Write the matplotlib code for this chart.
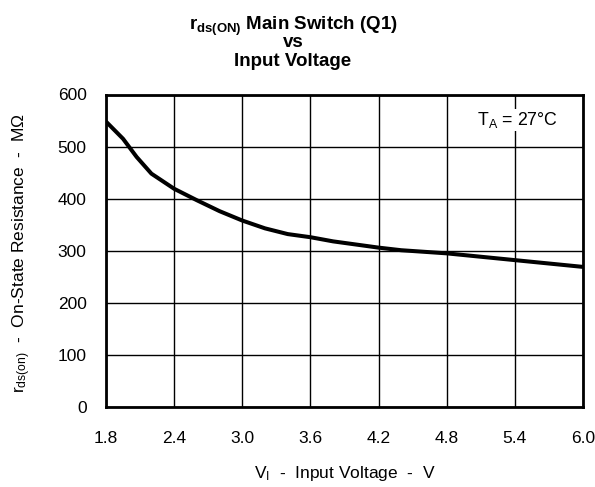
import matplotlib
matplotlib.use("Agg")
import matplotlib.pyplot as plt

plt.rcParams['font.family'] = ['Liberation Sans', 'DejaVu Sans']
plt.rcParams['mathtext.fontset'] = 'custom'
plt.rcParams['mathtext.rm'] = 'Liberation Sans'
plt.rcParams['mathtext.it'] = 'Liberation Sans:italic'
plt.rcParams['mathtext.bf'] = 'Liberation Sans:bold'

# Data
vin = [1.8, 1.95, 2.07, 2.2, 2.4, 2.6, 2.8, 3.0, 3.2, 3.4, 3.6, 3.8, 4.0, 4.2, 4.4, 4.8, 5.4, 6.0]
rds = [548, 515, 480, 448, 419, 397, 376, 358, 343, 332, 326, 318, 312, 306, 301, 295, 282, 269]
xticks = [1.8, 2.4, 3.0, 3.6, 4.2, 4.8, 5.4, 6.0]
xtick_labels = ['1.8', '2.4', '3.0', '3.6', '4.2', '4.8', '5.4', '6.0']
yticks = [0, 100, 200, 300, 400, 500, 600]

fig = plt.figure(figsize=(5.95, 4.87), dpi=100)
ax = fig.add_axes([106/595, 1-407/487, (583-106)/595, (407-94.5)/487])

ax.plot(vin, rds, color='black', lw=2.9, solid_capstyle='butt', zorder=3)
ax.set_xlim(1.8, 6.0)
ax.set_ylim(0, 600)
ax.set_xticks(xticks)
ax.set_xticklabels(xtick_labels)
ax.set_yticks(yticks)
ax.grid(True, color='black', lw=1.0)
ax.set_axisbelow(True)
for s in ax.spines.values():
    s.set_linewidth(2.0)
ax.tick_params(axis='both', length=0, labelsize=12.5)
ax.tick_params(axis='y', pad=14)
ax.tick_params(axis='x', pad=17)

ax.set_ylabel(r'$\mathregular{r_{ds(on)}}$  -  On-State Resistance  -  MΩ', fontsize=12.5)
ax.yaxis.set_label_coords(-0.153, 0.492)
ax.set_xlabel(r'$\mathregular{V_I}$  -  Input Voltage  -  V', fontsize=12.5)
ax.xaxis.set_label_coords(0.5, -0.182)

ax.text(5.78, 551, r'$\mathregular{T_A}$ = 27°C', fontsize=12.8, ha='right', va='center',
        bbox=dict(facecolor='white', edgecolor='none', pad=1), zorder=4)

tx = 293/595
fig.text(tx, 1-29.5/487, r'$\mathbf{r_{ds(ON)}}$ Main Switch (Q1)', ha='center', va='baseline',
         fontsize=13.5, fontweight='bold')
fig.text(tx, 1-47/487, 'vs', ha='center', va='baseline', fontsize=13.5, fontweight='bold')
fig.text(tx, 1-66.5/487, 'Input Voltage', ha='center', va='baseline', fontsize=13.5, fontweight='bold')

fig.savefig('out.png', dpi=100)
